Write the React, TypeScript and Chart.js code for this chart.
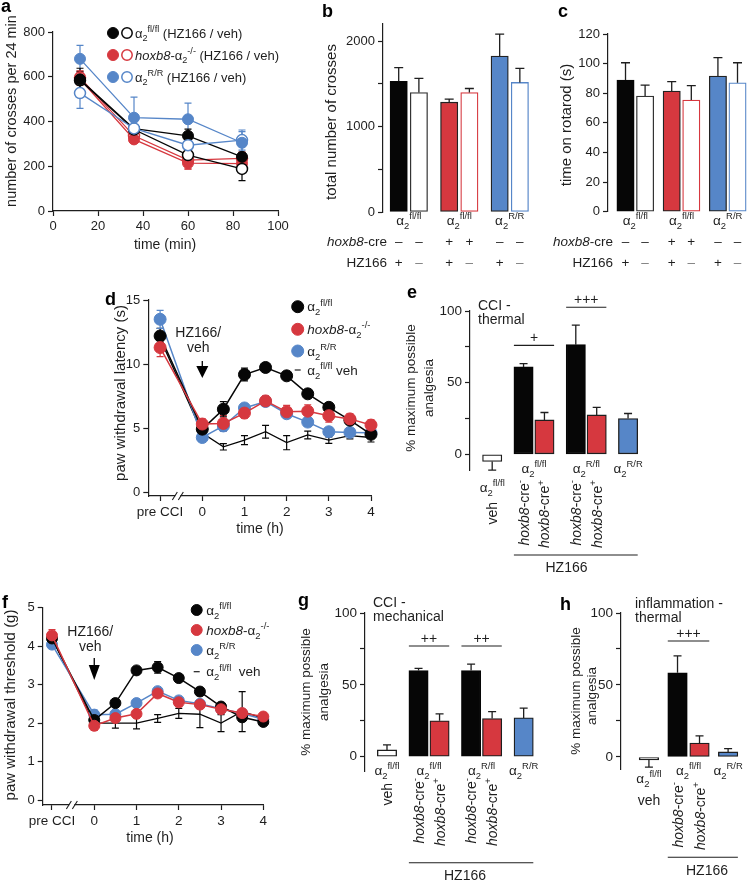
import { useEffect, useRef } from 'react';
import { Chart, registerables } from 'chart.js';

Chart.register(...registerables);

const W = 754;
const H = 882;
const FONT = '"Liberation Sans", Arial, Helvetica, sans-serif';
const INK = '#1e1e1e';
const BLACK = '#060606';
const RED = '#d6383f';
const BLUE = '#5686c8';
const VEH_GRAY = '#c6c6c6';
const WHITE = '#ffffff';

Chart.defaults.font.family = FONT;
Chart.defaults.color = INK;

// ---------------- Panel a : crosses per 24 min ----------------
const A_TIME = [12, 36, 60, 84];
const A_TICKS_X = [0, 20, 40, 60, 80, 100];
const A_TICKS_Y = [0, 200, 400, 600, 800];
const A_FLFL_HZ = [588, 368, 336, 242];
const A_FLFL_HZ_ERR = [50, 18, 30, 20];
const A_FLFL_VEH = [584, 364, 250, 188];
const A_FLFL_VEH_ERR = [40, 18, 22, 52];
const A_HOX_HZ = [590, 320, 214, 212];
const A_HOX_HZ_ERR = [28, 15, 26, 24];
const A_HOX_VEH = [596, 336, 227, 235];
const A_HOX_VEH_ERR = [30, 20, 40, 28];
const A_RR_HZ = [680, 417, 410, 305];
const A_RR_HZ_ERR = [60, 92, 72, 50];
const A_RR_VEH = [527, 369, 294, 317];
const A_RR_VEH_ERR = [68, 30, 30, 45];

// ---------------- Panels b, c ----------------
const BC_GROUPS = [1, 2, 3];
const BC_GENO = ['fl/fl', 'fl/fl', 'R/R'];
const BC_HOXB8 = ['–', '–', '+', '+', '–', '–'];
const BC_HZ166 = ['+', '–', '+', '–', '+', '–'];
const B_TICKS = [0, 500, 1000, 1500, 2000];
const B_LABELED = [0, 1000, 2000];
const B_VALUES = [1530, 1398, 1285, 1398, 1824, 1516];
const B_ERR = [160, 165, 35, 47, 258, 164];
const C_TICKS = [0, 20, 40, 60, 80, 100, 120];
const C_VALUES = [88.9, 78.1, 81.5, 75.4, 91.6, 87.1];
const C_ERR = [11.7, 7.4, 6.3, 9.7, 12.4, 13.5];

// ---------------- Panels d, f ----------------
const DF_TIME = [-1, 0, 0.5, 1, 1.5, 2, 2.5, 3, 3.5, 4];
const DF_TICKS = [-1, 0, 1, 2, 3, 4];
const D_TICKS_Y = [0, 5, 10, 15];
const D_FLFL = [12.2, 4.95, 6.5, 9.2, 9.75, 9.1, 7.7, 6.65, 5.65, 4.55];
const D_FLFL_ERR = [0.6, 0.3, 0.6, 0.5, 0.3, 0.3, 0.3, 0.3, 0.3, 0.3];
const D_HOX = [11.3, 5.35, 5.4, 6.2, 7.15, 6.3, 6.35, 6.0, 5.75, 5.27];
const D_HOX_ERR = [0.7, 0.4, 0.6, 0.4, 0.4, 0.5, 0.5, 0.5, 0.4, 0.4];
const D_RR = [13.5, 4.3, 5.2, 6.6, 7.1, 6.15, 5.5, 4.75, 4.7, 4.67];
const D_RR_ERR = [0.7, 0.3, 0.4, 0.3, 0.3, 0.3, 0.3, 0.3, 0.2, 0.2];
const D_VEH = [12.0, 4.65, 3.58, 4.1, 4.75, 3.9, 4.5, 4.1, 4.45, 4.3];
const D_VEH_ERR = [0, 0, 0.25, 0.35, 0.5, 0.55, 0.3, 0.25, 0.25, 0.35];
const F_TICKS_Y = [0, 1, 2, 3, 4, 5];
const F_FLFL = [4.2, 2.08, 2.52, 3.37, 3.45, 3.17, 2.82, 2.43, 2.15, 2.03];
const F_FLFL_ERR = [0.1, 0.08, 0.08, 0.08, 0.15, 0.08, 0.1, 0.08, 0.1, 0.08];
const F_HOX = [4.28, 1.93, 2.13, 2.24, 2.77, 2.54, 2.48, 2.36, 2.26, 2.17];
const F_HOX_ERR = [0.15, 0.12, 0.1, 0.1, 0.1, 0.1, 0.1, 0.1, 0.1, 0.1];
const F_RR = [4.04, 2.22, 2.23, 2.52, 2.83, 2.59, 2.5, 2.37, 2.25, 2.1];
const F_RR_ERR = [0.1, 0.12, 0.1, 0.08, 0.08, 0.08, 0.08, 0.08, 0.08, 0.1];
const F_VEH = [4.2, 2.0, 2.0, 2.0, 2.12, 2.25, 2.23, 2.0, 2.3, 2.12];
const F_VEH_ERR = [0, 0, 0.13, 0.15, 0.1, 0.13, 0.35, 0.22, 0.52, 0.08];

// ---------------- Panels e, g, h ----------------
const MPA_TICKS = [0, 25, 50, 75, 100];
const MPA_LABELED = [0, 50, 100];
const EG_CRE = ['', '-', '+', '-', '+', ''];
const E_VALUES = [-5, 61, 24, 76.5, 27.5, 25];
const E_ERR = [6, 2.3, 5.2, 13.7, 5.2, 3.5];
const G_VALUES = [4.7, 60, 25, 60, 26.5, 27];
const G_ERR = [3.5, 1.4, 4.8, 4.4, 4.9, 6.8];
const H_CRE = ['', '-', '+', ''];
const H_VALUES = [-2, 58.5, 9.7, 3.5];
const H_ERR = [5, 11.7, 5, 2.3];

// ---------------- styles / layout ----------------
const BC_FILL = [BLACK, WHITE, RED, WHITE, BLUE, WHITE];
const BC_EDGE = [BLACK, '#333333', '#222222', RED, '#222222', BLUE];
const EG_FILL = [WHITE, BLACK, RED, BLACK, RED, BLUE];
const EG_EDGE = [INK, BLACK, INK, BLACK, INK, INK];
const H_FILL = [VEH_GRAY, BLACK, RED, BLUE];
const H_EDGE = [INK, BLACK, INK, INK];
const B_OFFSET = 0.2;
const C_OFFSET = 0.212;
const EG_SLOTS = [0, 1.5, 2.5, 4, 5, 6.5];
const H_SLOTS = [0, 1.3, 2.3, 3.6];

const TICK_FS = 13;
const TITLE_FS = 15;
const LABEL_FS = 14;

type Frame = { L: number; T: number; R: number; B: number; yw: number; xh: number };
const FA: Frame = { L: 53, T: 32, R: 278, B: 211, yw: 45, xh: 25 };
const FB: Frame = { L: 383, T: 24, R: 535, B: 212, yw: 40, xh: 0 };
const FC: Frame = { L: 608, T: 34, R: 751, B: 211.7, yw: 40, xh: 0 };
const FD: Frame = { L: 148.3, T: 300, R: 371, B: 496, yw: 40, xh: 25 };
const FE: Frame = { L: 470, T: 311, R: 659.4, B: 470.1, yw: 40, xh: 0 };
const FF: Frame = { L: 42.7, T: 607.7, R: 263.3, B: 805, yw: 40, xh: 25 };
const FG: Frame = { L: 365, T: 613, R: 555.2, B: 771.9, yw: 40, xh: 0 };
const FH: Frame = { L: 621, T: 613, R: 750.1, B: 769.2, yw: 40, xh: 0 };

// ---------------- rich text ----------------
type Seg = { t: string; k: 'n' | 'sub' | 'sup'; it: boolean };
function parseRich(s: string): Seg[] {
  const segs: Seg[] = [];
  let it = false;
  let buf = '';
  let i = 0;
  const flush = () => {
    if (buf) segs.push({ t: buf, k: 'n', it });
    buf = '';
  };
  while (i < s.length) {
    const c = s[i];
    if ((c === '_' || c === '^') && s[i + 1] === '{') {
      flush();
      const j = s.indexOf('}', i);
      segs.push({ t: s.slice(i + 2, j), k: c === '_' ? 'sub' : 'sup', it });
      i = j + 1;
      continue;
    }
    if (c === '*') {
      flush();
      it = !it;
      i++;
      continue;
    }
    buf += c;
    i++;
  }
  flush();
  return segs;
}
function segFont(sg: Seg, size: number, bold?: boolean) {
  const sz = sg.k === 'n' ? size : size * 0.7;
  return `${sg.it ? 'italic ' : ''}${bold ? 'bold ' : ''}${sz}px ${FONT}`;
}
type RichOpt = { size?: number; align?: 'left' | 'center' | 'right'; color?: string; rot?: number; bold?: boolean };
function drawRich(ctx: CanvasRenderingContext2D, s: string, x: number, y: number, o: RichOpt = {}) {
  const size = o.size ?? LABEL_FS;
  const segs = parseRich(s);
  ctx.save();
  ctx.translate(x, y);
  if (o.rot) ctx.rotate(o.rot);
  ctx.fillStyle = o.color ?? INK;
  ctx.textBaseline = 'alphabetic';
  ctx.textAlign = 'left';
  let total = 0;
  const widths = segs.map((sg) => {
    ctx.font = segFont(sg, size, o.bold);
    const w = ctx.measureText(sg.t).width;
    total += w;
    return w;
  });
  let cx = o.align === 'center' ? -total / 2 : o.align === 'right' ? -total : 0;
  segs.forEach((sg, i) => {
    ctx.font = segFont(sg, size, o.bold);
    const dy = sg.k === 'sub' ? size * 0.3 : sg.k === 'sup' ? -size * 0.42 : 0;
    ctx.fillText(sg.t, cx, dy);
    cx += widths[i];
  });
  ctx.restore();
}
const ROT = -Math.PI / 2;
function vtext(ctx: CanvasRenderingContext2D, s: string, cx: number, y: number, size: number, align: 'center' | 'right') {
  drawRich(ctx, s, cx + 0.36 * size, y, { size, align, rot: ROT });
}
function letter(ctx: CanvasRenderingContext2D, s: string, x: number, y: number) {
  drawRich(ctx, s, x, y, { size: 18, bold: true, color: '#000' });
}
function circle(ctx: CanvasRenderingContext2D, x: number, y: number, r: number, fill: string, stroke: string, lw: number) {
  ctx.save();
  ctx.beginPath();
  ctx.arc(x, y, r, 0, Math.PI * 2);
  ctx.fillStyle = fill;
  ctx.fill();
  ctx.lineWidth = lw;
  ctx.strokeStyle = stroke;
  ctx.stroke();
  ctx.restore();
}
function hline(ctx: CanvasRenderingContext2D, x0: number, x1: number, y: number, lw = 1.1) {
  ctx.save();
  ctx.strokeStyle = INK;
  ctx.lineWidth = lw;
  ctx.beginPath();
  ctx.moveTo(x0, y);
  ctx.lineTo(x1, y);
  ctx.stroke();
  ctx.restore();
}
function arrowDown(ctx: CanvasRenderingContext2D, x: number, top: number, stem: number, triH: number, triW: number) {
  ctx.save();
  ctx.strokeStyle = '#000';
  ctx.fillStyle = '#000';
  ctx.lineWidth = 1.3;
  ctx.beginPath();
  ctx.moveTo(x, top);
  ctx.lineTo(x, top + stem + 1);
  ctx.stroke();
  ctx.beginPath();
  ctx.moveTo(x - triW / 2, top + stem);
  ctx.lineTo(x + triW / 2, top + stem);
  ctx.lineTo(x, top + stem + triH);
  ctx.closePath();
  ctx.fill();
  ctx.restore();
}
function axisBreak(ctx: CanvasRenderingContext2D, x: number, y: number) {
  ctx.save();
  ctx.fillStyle = WHITE;
  ctx.fillRect(x - 2.5, y - 3, 5, 6);
  ctx.strokeStyle = INK;
  ctx.lineWidth = 1.1;
  ctx.beginPath();
  ctx.moveTo(x - 5.5, y + 4);
  ctx.lineTo(x - 0.5, y - 4);
  ctx.moveTo(x + 0.5, y + 4);
  ctx.lineTo(x + 5.5, y - 4);
  ctx.stroke();
  ctx.restore();
}

function errorBars(ch: any, dsIndex: number, errs: number[], mode: 'both' | 'away', color: string, cap: number, lw: number) {
  const ctx: CanvasRenderingContext2D = ch.ctx;
  const meta = ch.getDatasetMeta(dsIndex);
  const ys = ch.scales.y;
  const pts = ch.data.datasets[dsIndex].data as any[];
  ctx.save();
  ctx.strokeStyle = color;
  ctx.lineWidth = lw;
  meta.data.forEach((el: any, i: number) => {
    const e = errs[i];
    if (!e) return;
    const v = pts[i].y;
    const ends = mode === 'both' ? [v - e, v + e] : [v, v >= 0 ? v + e : v - e];
    const p0 = ys.getPixelForValue(ends[0]);
    const p1 = ys.getPixelForValue(ends[1]);
    const x = el.x;
    ctx.beginPath();
    ctx.moveTo(x, p0);
    ctx.lineTo(x, p1);
    (mode === 'both' ? [p0, p1] : [p1]).forEach((p) => {
      ctx.moveTo(x - cap, p);
      ctx.lineTo(x + cap, p);
    });
    ctx.stroke();
  });
  ctx.restore();
}

// ---------------- chart option builders ----------------
function baseOptions(f: Frame, scales: any) {
  return {
    animation: false,
    responsive: false,
    maintainAspectRatio: false,
    devicePixelRatio: 1,
    events: [],
    layout: { autoPadding: false, padding: { left: f.L - f.yw, top: f.T, right: W - f.R, bottom: H - f.B - f.xh } },
    plugins: { legend: { display: false }, tooltip: { enabled: false }, title: { display: false } },
    scales,
  };
}
function axisStyle(fs: number) {
  return {
    border: { display: true, color: INK, width: 1.2 },
    grid: { display: true, drawOnChartArea: false, drawTicks: true, tickLength: 5, tickWidth: 1.2, tickColor: INK, offset: false },
    ticks: { color: INK, font: { family: FONT, size: fs }, padding: 3, autoSkip: false, maxRotation: 0, minRotation: 0 },
  };
}
function yAxis(f: Frame, min: number, max: number, ticks: number[], labeled: number[], fs: number) {
  const st = axisStyle(fs);
  return {
    type: 'linear',
    position: 'left',
    min,
    max,
    border: st.border,
    grid: st.grid,
    ticks: { ...st.ticks, callback: (v: number) => (labeled.indexOf(v) >= 0 ? String(v) : '') },
    afterFit: (s: any) => {
      s.width = f.yw;
    },
    afterBuildTicks: (s: any) => {
      s.ticks = ticks.map((v) => ({ value: v }));
    },
  };
}
function xAxis(f: Frame, min: number, max: number, ticks: number[], label: (v: number) => string, fs: number) {
  const st = axisStyle(fs);
  return {
    type: 'linear',
    position: 'bottom',
    min,
    max,
    offset: false,
    border: st.border,
    grid: st.grid,
    ticks: { ...st.ticks, callback: (v: number) => label(v) },
    afterFit: (s: any) => {
      s.height = f.xh;
    },
    afterBuildTicks: (s: any) => {
      s.ticks = ticks.map((v) => ({ value: v }));
    },
  };
}
function hiddenX(min: number, max: number) {
  return { type: 'linear', display: false, min, max, offset: false, grid: { offset: false } };
}
function lineDs(xs: number[], ys: number[], color: string, filled: boolean, r: number, lw: number) {
  return {
    data: xs.map((x, i) => ({ x, y: ys[i] })),
    borderColor: color,
    backgroundColor: color,
    borderWidth: lw,
    pointRadius: r,
    pointHoverRadius: r,
    pointBackgroundColor: filled ? color : WHITE,
    pointBorderColor: color,
    pointBorderWidth: filled ? 1 : 1.5,
    tension: 0,
    fill: false,
    clip: false,
  };
}
function barDs(xs: number[], ys: number[], fills: string[], edges: string[], thick: number) {
  return {
    type: 'bar',
    data: xs.map((x, i) => ({ x, y: ys[i] })),
    backgroundColor: fills,
    borderColor: edges,
    borderWidth: 1.3,
    borderSkipped: false,
    barThickness: thick,
    grouped: false,
    clip: false,
  };
}

// ---------------- Panel a ----------------
const A_LEGEND = [
  { c: BLACK, t: 'α_{2}^{fl/fl} (HZ166 / veh)' },
  { c: RED, t: '*hoxb8*-α_{2}^{-/-} (HZ166 / veh)' },
  { c: BLUE, t: 'α_{2}^{R/R} (HZ166 / veh)' },
];
function cfgA() {
  const series: [number[], number[], string, boolean][] = [
    [A_RR_HZ, A_RR_HZ_ERR, BLUE, true],
    [A_RR_VEH, A_RR_VEH_ERR, BLUE, false],
    [A_FLFL_HZ, A_FLFL_HZ_ERR, BLACK, true],
    [A_FLFL_VEH, A_FLFL_VEH_ERR, BLACK, false],
    [A_HOX_HZ, A_HOX_HZ_ERR, RED, true],
    [A_HOX_VEH, A_HOX_VEH_ERR, RED, false],
  ];
  return {
    type: 'line',
    data: { datasets: series.map(([ys, , c, filled]) => lineDs(A_TIME, ys, c, filled, 5.5, 1.3)) },
    options: baseOptions(FA, {
      x: xAxis(FA, 0, 100, A_TICKS_X, (v) => String(v), TICK_FS),
      y: yAxis(FA, 0, 800, A_TICKS_Y, A_TICKS_Y, TICK_FS),
    }),
    plugins: [
      { id: 'errA', beforeDatasetsDraw: (ch: any) => series.forEach(([, e, c], i) => errorBars(ch, i, e, 'both', c, 3.5, 1.2)) },
      {
        id: 'decoA',
        afterDraw: (ch: any) => {
          const ctx = ch.ctx;
          letter(ctx, 'a', 1, 12);
          vtext(ctx, 'number of crosses per 24 min', 11, 111, 14.5, 'center');
          drawRich(ctx, 'time (min)', 165, 249, { size: 14, align: 'center' });
          A_LEGEND.forEach((it, i) => {
            const y = 33 + i * 22;
            circle(ctx, 113, y, 5.5, it.c, it.c, 1);
            circle(ctx, 127, y, 5.2, WHITE, it.c, 1.5);
            drawRich(ctx, it.t, 135, y + 4.5, { size: 13 });
          });
        },
      },
    ],
  };
}

// ---------------- Panels b, c ----------------
function cfgBC(f: Frame, vals: number[], errs: number[], off: number, xmin: number, xmax: number, ymax: number, ticks: number[], labeled: number[], p: any) {
  const xs = vals.map((_, i) => BC_GROUPS[Math.floor(i / 2)] + (i % 2 ? off : -off));
  return {
    type: 'bar',
    data: { datasets: [barDs(xs, vals, BC_FILL, BC_EDGE, 17.3)] },
    options: baseOptions(f, { x: hiddenX(xmin, xmax), y: yAxis(f, 0, ymax, ticks, labeled, TICK_FS) }),
    plugins: [
      { id: 'errBC', afterDatasetsDraw: (ch: any) => errorBars(ch, 0, errs, 'away', INK, 4.5, 1.3) },
      {
        id: 'decoBC',
        afterDraw: (ch: any) => {
          const ctx = ch.ctx;
          const sx = ch.scales.x;
          const meta = ch.getDatasetMeta(0);
          letter(ctx, p.letter, p.lx, p.ly);
          vtext(ctx, p.title, p.tx, p.ty, TITLE_FS, 'center');
          BC_GROUPS.forEach((g, gi) => drawRich(ctx, `α_{2}^{${BC_GENO[gi]}}`, sx.getPixelForValue(g), 225, { size: 13.5, align: 'center' }));
          drawRich(ctx, '*hoxb8*-cre', p.rowRight, 246, { size: 13.5, align: 'right' });
          drawRich(ctx, 'HZ166', p.rowRight, 267, { size: 13.5, align: 'right' });
          meta.data.forEach((el: any, i: number) => {
            drawRich(ctx, BC_HOXB8[i], el.x, 246, { size: 13.5, align: 'center' });
            drawRich(ctx, BC_HZ166[i], el.x, 267, { size: 13.5, align: 'center', color: BC_HZ166[i] === '+' ? INK : '#777' });
          });
        },
      },
    ],
  };
}

// ---------------- Panels d, f ----------------
const DF_LEGEND = [
  { c: BLACK, t: 'α_{2}^{fl/fl}' },
  { c: RED, t: '*hoxb8*-α_{2}^{-/-}' },
  { c: BLUE, t: 'α_{2}^{R/R}' },
];
function cfgDF(f: Frame, ymin: number, ymax: number, yticks: number[], sets: [number[], number[], string, boolean][], xmin: number, p: any) {
  return {
    type: 'line',
    data: {
      datasets: sets.map(([ys, , c, marker]) => lineDs(DF_TIME, ys, c, true, marker ? p.r : 0, marker ? 1.5 : 1.3)),
    },
    options: baseOptions(f, {
      x: xAxis(f, xmin, 4, DF_TICKS, (v) => (v === -1 ? 'pre CCI' : String(v)), 13.5),
      y: yAxis(f, ymin, ymax, yticks, yticks, 13),
    }),
    plugins: [
      { id: 'errDF', beforeDatasetsDraw: (ch: any) => sets.forEach(([, e, c], i) => errorBars(ch, i, e, 'both', c, 3.5, 1.2)) },
      {
        id: 'decoDF',
        afterDraw: (ch: any) => {
          const ctx = ch.ctx;
          const sx = ch.scales.x;
          letter(ctx, p.letter, p.lx, p.ly);
          vtext(ctx, p.title, p.tx, p.ty, TITLE_FS, 'center');
          drawRich(ctx, 'time (h)', p.xtX, p.xtY, { size: 14, align: 'center' });
          axisBreak(ctx, sx.getPixelForValue(p.brk), ch.chartArea.bottom);
          const x0 = sx.getPixelForValue(0);
          drawRich(ctx, 'HZ166/', x0 - 4, p.hzY, { size: 14, align: 'center' });
          drawRich(ctx, 'veh', x0 - 4, p.hzY + 14.5, { size: 14, align: 'center' });
          arrowDown(ctx, x0, p.arrY, p.stem, p.triH, p.triW);
          DF_LEGEND.forEach((it, i) => {
            const y = p.legY[i];
            circle(ctx, p.legX, y, p.r, it.c, it.c, 1);
            drawRich(ctx, it.t, p.legX + 9.5, y + 4.5, { size: 13.5 });
          });
          const yv = p.legY[3];
          hline(ctx, p.legX - 3, p.legX + 3, yv, 1.2);
          drawRich(ctx, p.vehText, p.legX + 9.5, yv + 4.5, { size: 13.5 });
        },
      },
    ],
  };
}

// ---------------- Panels e, g ----------------
function cfgEG(f: Frame, vals: number[], errs: number[], xmin: number, xmax: number, ymin: number, p: any) {
  return {
    type: 'bar',
    data: { datasets: [barDs(EG_SLOTS, vals, EG_FILL, EG_EDGE, 19.3)] },
    options: baseOptions(f, { x: hiddenX(xmin, xmax), y: yAxis(f, ymin, 100, MPA_TICKS, MPA_LABELED, 13.5) }),
    plugins: [
      { id: 'errEG', afterDatasetsDraw: (ch: any) => errorBars(ch, 0, errs, 'away', INK, 4, 1.3) },
      {
        id: 'decoEG',
        afterDraw: (ch: any) => {
          const ctx = ch.ctx;
          const ys = ch.scales.y;
          const m = ch.getDatasetMeta(0).data;
          const bx = (i: number) => m[i].x;
          const half = (i: number) => m[i].width / 2;
          const fs = LABEL_FS;
          letter(ctx, p.letter, p.lx, p.ly);
          vtext(ctx, '% maximum possible', p.t1x, p.ty, 13.5, 'center');
          vtext(ctx, 'analgesia', p.t2x, p.ty, 13.5, 'center');
          drawRich(ctx, p.note1, p.nx, p.ny, { size: 14 });
          drawRich(ctx, p.note2, p.nx, p.ny + 14, { size: 14 });
          drawRich(ctx, 'α_{2}^{fl/fl}', bx(0), p.vehLabY, { size: 13.5, align: 'center' });
          vtext(ctx, 'veh', bx(0), p.vehTop, fs, 'right');
          drawRich(ctx, 'α_{2}^{fl/fl}', (bx(1) + bx(2)) / 2, p.grpY, { size: 13.5, align: 'center' });
          drawRich(ctx, 'α_{2}^{R/fl}', (bx(3) + bx(4)) / 2, p.grpY, { size: 13.5, align: 'center' });
          drawRich(ctx, 'α_{2}^{R/R}', bx(5), p.grpY, { size: 13.5, align: 'center' });
          [1, 2, 3, 4].forEach((i) => vtext(ctx, `*hoxb8*-cre^{${EG_CRE[i]}}`, bx(i), p.creTop, fs, 'right'));
          hline(ctx, bx(1) - half(1), bx(5) + half(5), p.hzY);
          drawRich(ctx, 'HZ166', p.hzX, p.hzY + 17, { size: 14, align: 'center' });
          p.sig.forEach((s: any) => {
            const y = ys.getPixelForValue(s.v);
            hline(ctx, bx(s.a) - half(s.a), bx(s.b) + half(s.b), y);
            drawRich(ctx, s.t, (bx(s.a) + bx(s.b)) / 2, y - 3, { size: 14, align: 'center' });
          });
          p.stars.forEach((i: number) => {
            const y = ys.getPixelForValue(vals[i] + errs[i]);
            drawRich(ctx, '***', bx(i), y - 1, { size: 14, align: 'center' });
          });
        },
      },
    ],
  };
}

// ---------------- Panel h ----------------
function cfgH() {
  const f = FH;
  return {
    type: 'bar',
    data: { datasets: [barDs(H_SLOTS, H_VALUES, H_FILL, H_EDGE, 19.5)] },
    options: baseOptions(f, { x: hiddenX(-1.27, 4.6), y: yAxis(f, -8.5, 100, MPA_TICKS, MPA_LABELED, 13.5) }),
    plugins: [
      { id: 'errH', afterDatasetsDraw: (ch: any) => errorBars(ch, 0, H_ERR, 'away', INK, 4, 1.3) },
      {
        id: 'decoH',
        afterDraw: (ch: any) => {
          const ctx = ch.ctx;
          const ys = ch.scales.y;
          const m = ch.getDatasetMeta(0).data;
          const bx = (i: number) => m[i].x;
          const half = (i: number) => m[i].width / 2;
          const fs = LABEL_FS;
          letter(ctx, 'h', 560, 610);
          vtext(ctx, '% maximum possible', 575, 691, 13.5, 'center');
          vtext(ctx, 'analgesia', 591, 696, 13.5, 'center');
          drawRich(ctx, 'inflammation -', 635, 607.5, { size: 14 });
          drawRich(ctx, 'thermal', 635, 621.5, { size: 14 });
          drawRich(ctx, 'α_{2}^{fl/fl}', bx(0), 783, { size: 13.5, align: 'center' });
          drawRich(ctx, 'veh', bx(0), 805, { size: fs, align: 'center' });
          drawRich(ctx, 'α_{2}^{fl/fl}', (bx(1) + bx(2)) / 2, 775, { size: 13.5, align: 'center' });
          drawRich(ctx, 'α_{2}^{R/R}', bx(3), 775, { size: 13.5, align: 'center' });
          [1, 2].forEach((i) => vtext(ctx, `*hoxb8*-cre^{${H_CRE[i]}}`, bx(i), 782, fs, 'right'));
          hline(ctx, bx(1) - half(1), bx(3) + half(3), 857.3);
          drawRich(ctx, 'HZ166', 707, 875, { size: 14, align: 'center' });
          const y = ys.getPixelForValue(80.5);
          hline(ctx, bx(1) - half(1), bx(2) + half(2), y);
          drawRich(ctx, '+++', (bx(1) + bx(2)) / 2, y - 3, { size: 14, align: 'center' });
          const ys1 = ys.getPixelForValue(H_VALUES[1] + H_ERR[1]);
          drawRich(ctx, '***', bx(1), ys1 - 1, { size: 14, align: 'center' });
        },
      },
    ],
  };
}

function buildConfigs(): any[] {
  return [
    cfgA(),
    cfgBC(FB, B_VALUES, B_ERR, B_OFFSET, 0.489, 3.5, 2200, B_TICKS, B_LABELED, {
      letter: 'b', lx: 322, ly: 17, title: 'total number of crosses', tx: 331, ty: 122, rowRight: 387,
    }),
    cfgBC(FC, C_VALUES, C_ERR, C_OFFSET, 0.409, 3.504, 120, C_TICKS, C_TICKS, {
      letter: 'c', lx: 558, ly: 17, title: 'time on rotarod (s)', tx: 566, ty: 125, rowRight: 613,
    }),
    cfgDF(FD, -0.25, 15, D_TICKS_Y, [
      [D_HOX, D_HOX_ERR, RED, true],
      [D_FLFL, D_FLFL_ERR, BLACK, true],
      [D_RR, D_RR_ERR, BLUE, true],
      [D_VEH, D_VEH_ERR, BLACK, false],
    ], -1.28, {
      r: 6, letter: 'd', lx: 105, ly: 305, title: 'paw withdrawal latency (s)', tx: 120, ty: 393,
      xtX: 260, xtY: 533, brk: -0.58, hzY: 337, arrY: 361, stem: 5, triH: 12, triW: 12,
      legX: 297.7, legY: [306.7, 329.3, 351, 370], vehText: 'α_{2}^{fl/fl} veh',
    }),
    cfgEG(FE, E_VALUES, E_ERR, -1.062, 8, -11, {
      letter: 'e', lx: 407, ly: 298, t1x: 410, t2x: 428, ty: 388, note1: 'CCI -', note2: 'thermal', nx: 478, ny: 310,
      vehLabY: 492, vehTop: 502, grpY: 473, creTop: 480, hzY: 555, hzX: 566.5,
      sig: [{ a: 1, b: 2, v: 76, t: '+' }, { a: 3, b: 4, v: 102.6, t: '+++' }], stars: [1, 3],
    }),
    cfgDF(FF, -0.13, 5, F_TICKS_Y, [
      [F_HOX, F_HOX_ERR, RED, true],
      [F_FLFL, F_FLFL_ERR, BLACK, true],
      [F_RR, F_RR_ERR, BLUE, true],
      [F_VEH, F_VEH_ERR, BLACK, false],
    ], -1.22, {
      r: 5.5, letter: 'f', lx: 2, ly: 608, title: 'paw withdrawal threshold (g)', tx: 10, ty: 705,
      xtX: 150, xtY: 842, brk: -0.53, hzY: 636, arrY: 658, stem: 7, triH: 15, triW: 11,
      legX: 196.7, legY: [610, 630, 650, 671.7], vehText: 'α_{2}^{fl/fl}  veh',
    }),
    cfgEG(FG, G_VALUES, G_ERR, -1.046, 8, -10.6, {
      letter: 'g', lx: 298, ly: 606, t1x: 305, t2x: 323, ty: 692, note1: 'CCI -', note2: 'mechanical', nx: 373, ny: 607,
      vehLabY: 775, vehTop: 783, grpY: 775, creTop: 778, hzY: 862.7, hzX: 465,
      sig: [{ a: 1, b: 2, v: 77, t: '++' }, { a: 3, b: 4, v: 77, t: '++' }], stars: [1, 3],
    }),
    cfgH(),
  ];
}

export default function App() {
  const refs = useRef<(HTMLCanvasElement | null)[]>([]);
  useEffect(() => {
    const charts = buildConfigs().map((cfg, i) => new Chart(refs.current[i] as HTMLCanvasElement, cfg));
    return () => charts.forEach((c) => c.destroy());
  }, []);
  return (
    <div style={{ position: 'absolute', left: 0, top: 0, width: W, height: H, background: '#fff', overflow: 'hidden' }}>
      {Array.from({ length: 8 }).map((_, i) => (
        <canvas
          key={i}
          ref={(el) => {
            refs.current[i] = el;
          }}
          width={W}
          height={H}
          style={{ position: 'absolute', left: 0, top: 0, width: W, height: H }}
        />
      ))}
    </div>
  );
}
